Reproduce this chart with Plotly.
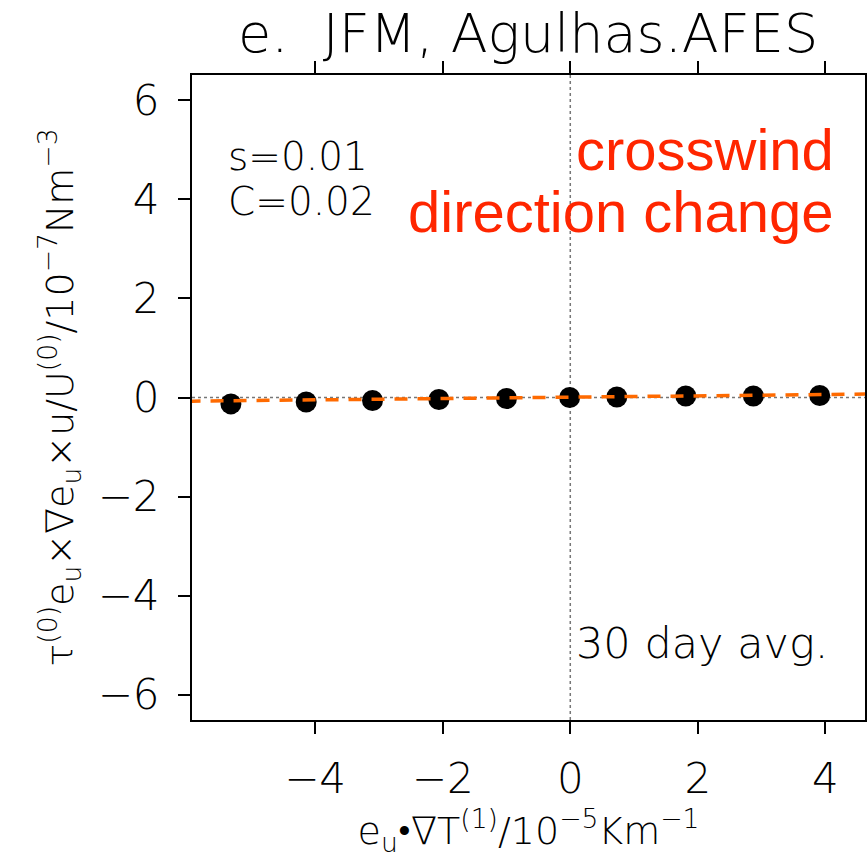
import plotly.graph_objects as go

# Binned cross-wind SST gradient (10^-5 K/m) and wind-stress curl term (10^-7 N/m^3)
grad_x = [-5.32, -4.14, -3.10, -2.06, -1.00, -0.01, 0.73, 1.81, 2.87, 3.91]
curl_y = [-0.13, -0.09, -0.06, -0.04, -0.02, 0.00, 0.01, 0.03, 0.03, 0.04]

# Least-squares fit line end points
fit_x = [-6.0, 4.7]
fit_y = [-0.075, 0.07]

x_ticks = [-4, -2, 0, 2, 4]
y_ticks = [-6, -4, -2, 0, 2, 4, 6]

x_range = [-5.93, 4.62]
y_range = [-6.51, 6.51]

hershey = "DejaVu Sans"
sans = "Liberation Sans"
thin = 200

fig = go.Figure()

# zero reference lines
fig.add_trace(go.Scatter(x=x_range, y=[0, 0], mode="lines",
                         line=dict(color="#777777", width=1.5, dash="dot"),
                         hoverinfo="skip", showlegend=False))
fig.add_trace(go.Scatter(x=[0, 0], y=y_range, mode="lines",
                         line=dict(color="#777777", width=1.5, dash="dot"),
                         hoverinfo="skip", showlegend=False))

fig.add_trace(go.Scatter(x=grad_x, y=curl_y, mode="markers",
                         marker=dict(color="black", size=21, line=dict(width=0)),
                         showlegend=False))

fig.add_trace(go.Scatter(x=fit_x, y=fit_y, mode="lines",
                         line=dict(color="#ff6a00", width=3.5, dash="13px,10px"),
                         showlegend=False))

axis_common = dict(showgrid=False, zeroline=False, showline=True,
                   linecolor="black", linewidth=2, ticks="outside",
                   tickcolor="black", tickwidth=2, ticklen=12,
                   tickfont=dict(family=hershey, size=42, color="black", weight=thin))

fig.update_xaxes(range=x_range, tickvals=x_ticks, mirror="ticks",
                 ticklabelstandoff=9,
                 title=dict(text="e<sub>u</sub>•∇T<sup>(1)</sup>/10<sup>−5</sup>Km<sup>−1</sup>",
                            font=dict(family=hershey, size=38, color="black", weight=thin),
                            standoff=4),
                 **axis_common)
fig.update_yaxes(range=y_range, tickvals=y_ticks, mirror=True,
                 ticklabelstandoff=10,
                 title=dict(text="τ<sup>(0)</sup>e<sub>u</sub>×∇e<sub>u</sub>×u/U<sup>(0)</sup>/10<sup>−7</sup>Nm<sup>−3</sup>",
                            font=dict(family=hershey, size=38, color="black", weight=thin),
                            standoff=12),
                 **axis_common)

annotations = [
    dict(text="e.  JFM, Agulhas.AFES", xref="paper", yref="paper",
         x=0.4995, y=1.064, xanchor="center", yanchor="middle", showarrow=False,
         font=dict(family=hershey, size=54, color="black", weight=thin)),
    dict(text="s=0.01", xref="x", yref="y", x=-5.40, y=4.86,
         xanchor="left", yanchor="middle", showarrow=False,
         font=dict(family=hershey, size=39, color="black", weight=thin)),
    dict(text="C=0.02", xref="x", yref="y", x=-5.40, y=3.96,
         xanchor="left", yanchor="middle", showarrow=False,
         font=dict(family=hershey, size=39, color="black", weight=thin)),
    dict(text="crosswind", xref="x", yref="y", x=4.17, y=5.0,
         xanchor="right", yanchor="middle", showarrow=False,
         font=dict(family=sans, size=58, color="#ff2600")),
    dict(text="direction change", xref="x", yref="y", x=4.17, y=3.75,
         xanchor="right", yanchor="middle", showarrow=False,
         font=dict(family=sans, size=58, color="#ff2600")),
    dict(text="30 day avg.", xref="x", yref="y", x=0.06, y=-4.95,
         xanchor="left", yanchor="middle", showarrow=False,
         font=dict(family=hershey, size=43, color="black", weight=thin)),
]

fig.update_layout(
    width=867, height=862,
    margin=dict(l=192, r=0, t=75, b=142),
    paper_bgcolor="white", plot_bgcolor="white",
    annotations=annotations,
)

fig.write_html("out.html")
